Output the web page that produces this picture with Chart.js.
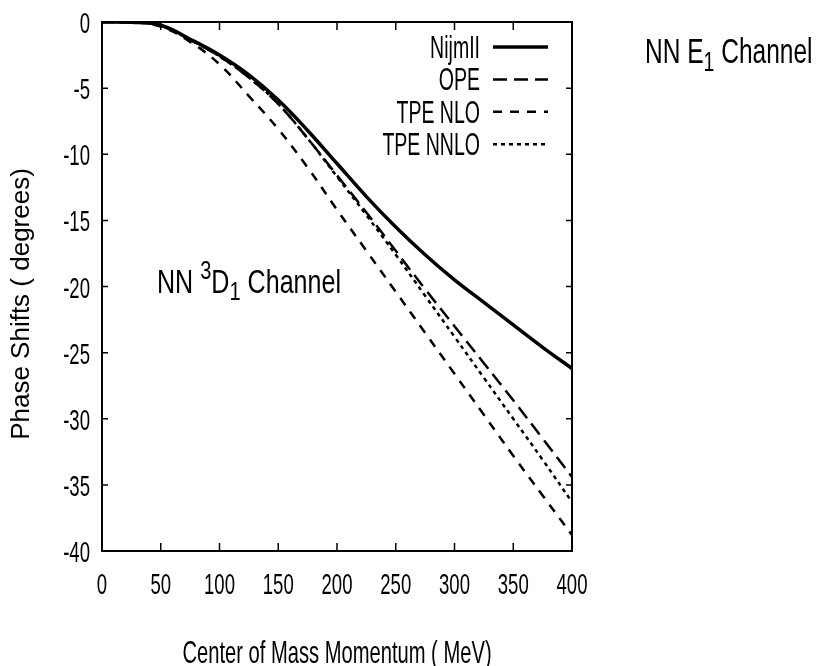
<!DOCTYPE html>
<html>
<head>
<meta charset="utf-8">
<script src="https://cdn.jsdelivr.net/npm/chart.js@4.4.1/dist/chart.umd.min.js"></script>
<style>
  html, body { margin: 0; padding: 0; background: #fff; }
  canvas { display: block; }
</style>
</head>
<body>
<canvas id="chart" width="820" height="666"></canvas>
<script>
// values
const momentum = [0, 25, 50, 75, 100, 125, 150, 175, 200, 225, 250, 275, 300, 325, 350, 375, 400];
const nijmII  = [0, -0.02, -0.25, -1.3, -2.5, -4.0, -5.9, -8.2, -10.7, -13.2, -15.5, -17.6, -19.5, -21.2, -22.9, -24.6, -26.2];
const ope     = [0, -0.02, -0.28, -1.35, -2.6, -4.2, -6.2, -8.8, -11.6, -14.4, -17.3, -20.2, -23.0, -25.8, -28.6, -31.5, -34.4];
const tpeNLO  = [0, -0.03, -0.35, -1.5, -3.2, -5.6, -8.1, -11.0, -14.2, -17.3, -20.4, -23.5, -26.6, -29.7, -32.8, -35.8, -38.8];
const tpeNNLO = [0, -0.02, -0.28, -1.35, -2.6, -4.2, -6.2, -8.8, -11.7, -14.6, -17.6, -20.7, -23.8, -26.9, -30.0, -33.1, -36.3];

const xTicks = [0, 50, 100, 150, 200, 250, 300, 350, 400];
const yTicks = [0, -5, -10, -15, -20, -25, -30, -35, -40];

const toPoints = (ys) => momentum.map((m, i) => ({ x: m, y: ys[i] }));

const FONT = '"Liberation Sans", Arial, sans-serif';

// gnuplot-ish tall narrow text: squeeze horizontally
function squeezedText(ctx, text, x, y, size, sx, align) {
  ctx.save();
  ctx.font = size + 'px ' + FONT;
  ctx.translate(x, y);
  ctx.scale(sx, 1);
  ctx.textAlign = align || 'left';
  ctx.textBaseline = 'alphabetic';
  ctx.fillText(text, 0, 0);
  ctx.restore();
}

// text with sup / sub parts, given as [text, kind] pieces
function richText(ctx, pieces, x, y, size, sx) {
  let cx = x;
  pieces.forEach(([txt, kind]) => {
    let fs = size, dy = 0;
    if (kind === 'sup') { fs = size * 0.8; dy = -size * 0.42; }
    if (kind === 'sub') { fs = size * 0.8; dy = size * 0.22; }
    ctx.save();
    ctx.font = fs + 'px ' + FONT;
    const w = ctx.measureText(txt).width * sx;
    ctx.translate(cx, y + dy);
    ctx.scale(sx, 1);
    ctx.textBaseline = 'alphabetic';
    ctx.fillText(txt, 0, 0);
    ctx.restore();
    cx += w;
  });
}

const paperPlugin = {
  id: 'paper',
  afterDatasetsDraw(chart) {
    const { ctx, chartArea: a, scales: { x, y } } = chart;
    ctx.save();
    ctx.strokeStyle = '#000';
    ctx.fillStyle = '#000';
    ctx.setLineDash([]);

    // border box
    ctx.lineWidth = 2;
    ctx.strokeRect(a.left, a.top, a.right - a.left, a.bottom - a.top);

    // inward ticks on all four sides
    ctx.lineWidth = 1.5;
    ctx.beginPath();
    x.ticks.forEach(t => {
      const px = x.getPixelForValue(t.value);
      ctx.moveTo(px, a.bottom); ctx.lineTo(px, a.bottom - 8);
      ctx.moveTo(px, a.top); ctx.lineTo(px, a.top + 8);
    });
    y.ticks.forEach(t => {
      const py = y.getPixelForValue(t.value);
      ctx.moveTo(a.left, py); ctx.lineTo(a.left + 6, py);
      ctx.moveTo(a.right, py); ctx.lineTo(a.right - 6, py);
    });
    ctx.stroke();

    // tick labels
    x.ticks.forEach(t => {
      squeezedText(ctx, String(t.value), x.getPixelForValue(t.value), 594, 29, 0.64, 'center');
    });
    y.ticks.forEach(t => {
      squeezedText(ctx, String(t.value), a.left - 12, y.getPixelForValue(t.value) + 11, 29, 0.64, 'right');
    });

    // axis titles
    squeezedText(ctx, 'Center of Mass Momentum ( MeV)', (a.left + a.right) / 2, 663, 32, 0.63, 'center');
    ctx.save();
    ctx.translate(29, 304);
    ctx.rotate(-Math.PI / 2);
    ctx.font = '26px ' + FONT;
    ctx.textAlign = 'center';
    ctx.textBaseline = 'alphabetic';
    ctx.fillText('Phase Shifts ( degrees)', 0, 0);
    ctx.restore();

    // legend, text right aligned, sample to the right
    chart.data.datasets.forEach((ds, i) => {
      const cy = 47 + i * 32.4;
      squeezedText(ctx, ds.label, 480, cy + 11, 32, 0.61, 'right');
      ctx.save();
      ctx.lineWidth = ds.borderWidth;
      ctx.setLineDash(ds.borderDash || []);
      ctx.beginPath();
      ctx.moveTo(493, cy);
      ctx.lineTo(548, cy);
      ctx.stroke();
      ctx.restore();
    });

    // channel annotations
    richText(ctx, [['NN ', ''], ['3', 'sup'], ['D', ''], ['1', 'sub'], [' Channel', '']], 157, 293, 33, 0.76);
    richText(ctx, [['NN E', ''], ['1', 'sub'], [' Channel', '']], 645, 63, 35, 0.7);

    ctx.restore();
  }
};

new Chart(document.getElementById('chart'), {
  type: 'line',
  data: {
    datasets: [
      { label: 'NijmII', data: toPoints(nijmII), borderColor: '#000', borderWidth: 3.5, borderDash: [] },
      { label: 'OPE', data: toPoints(ope), borderColor: '#000', borderWidth: 2.5, borderDash: [14, 7] },
      { label: 'TPE NLO', data: toPoints(tpeNLO), borderColor: '#000', borderWidth: 2.5, borderDash: [9, 8] },
      { label: 'TPE NNLO', data: toPoints(tpeNNLO), borderColor: '#000', borderWidth: 2.5, borderDash: [4, 4] }
    ]
  },
  options: {
    responsive: false,
    animation: false,
    devicePixelRatio: 1,
    layout: { padding: { left: 102, top: 22, right: 248, bottom: 115 } },
    elements: {
      point: { radius: 0 },
      line: { tension: 0.4, fill: false }
    },
    plugins: { legend: { display: false }, tooltip: { enabled: false } },
    scales: {
      x: {
        type: 'linear', min: 0, max: 400,
        afterBuildTicks: (s) => { s.ticks = xTicks.map(v => ({ value: v })); },
        ticks: { display: false },
        grid: { display: false, drawTicks: false },
        border: { display: false }
      },
      y: {
        type: 'linear', min: -40, max: 0,
        afterBuildTicks: (s) => { s.ticks = yTicks.map(v => ({ value: v })); },
        ticks: { display: false },
        grid: { display: false, drawTicks: false },
        border: { display: false }
      }
    }
  },
  plugins: [paperPlugin]
});
</script>
</body>
</html>
